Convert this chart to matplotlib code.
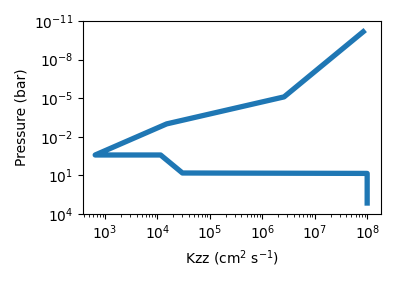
import numpy as np
import matplotlib
matplotlib.use("Agg")
import matplotlib.pyplot as plt
from matplotlib.ticker import LogLocator, NullLocator

# Kzz profile (top of atmosphere -> deep)
kzz = [8.4e7, 2.6e6, 1.5e4, 650, 1.15e4, 3.0e4, 1.0e8, 1.0e8]
pressure = [7e-11, 8e-6, 1e-3, 0.26, 0.26, 6.5, 7.0, 1.4e3]

yticks = [1e-11, 1e-8, 1e-5, 1e-2, 1e1, 1e4]

fig = plt.figure(figsize=(3.95, 2.82), dpi=100)
ax = fig.add_axes([0.21, 0.241, 0.755, 0.685])

ax.plot(kzz, pressure, color="#1f77b4", lw=3.8)
ax.set_xscale("log")
ax.set_yscale("log")
ax.set_xlim(380, 1.85e8)
ax.set_ylim(1e4, 1e-11)
ax.set_yticks(yticks)
ax.yaxis.set_minor_locator(NullLocator())
ax.xaxis.set_major_locator(LogLocator(base=10, numticks=10))

ax.set_xlabel("Kzz (cm$^2$ s$^{-1}$)")
ax.set_ylabel("Pressure (bar)")

fig.savefig("out.png", dpi=100)
